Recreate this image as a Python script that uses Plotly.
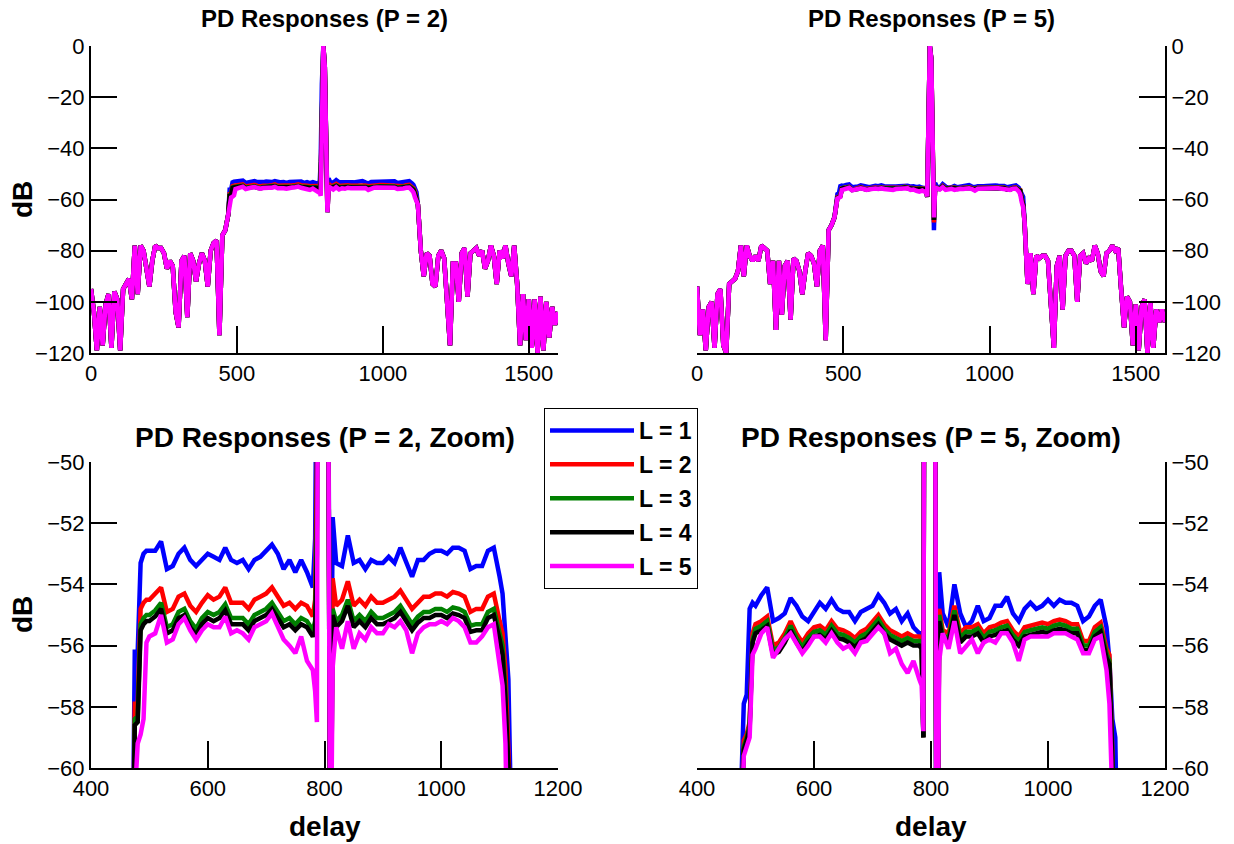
import plotly.graph_objects as go

# ---------------- data ----------------
# out-of-band sidelobes (shared by all L, they overlap in the picture)
delay_lo = [0, 10, 20, 30, 40, 50, 60, 70, 80, 90, 100, 110, 120, 130, 140, 150, 160, 170, 180, 190,
            200, 210, 220, 230, 240, 250, 260, 270, 280, 290, 300, 310, 320, 330, 340, 350, 360, 370, 380, 390,
            400, 410, 420, 430, 440, 450, 460, 470]
delay_hi = [1120, 1130, 1140, 1150, 1160, 1170, 1180, 1190, 1200, 1210, 1220, 1230, 1240, 1250, 1260, 1270,
            1280, 1290, 1300, 1310, 1320, 1330, 1340, 1350, 1360, 1370, 1380, 1390, 1400, 1410, 1420, 1430,
            1440, 1450, 1460, 1470, 1480, 1490, 1500, 1510, 1520, 1530, 1540, 1550, 1560, 1570, 1580, 1590, 1600]

lo_P2 = [-95, -104, -119, -102, -117, -101, -97, -118, -96, -99, -119, -95, -93, -91, -99, -78, -97, -78, -80, -86,
         -94, -84, -78, -79, -79, -81, -87, -84, -86, -104, -110, -84, -82, -106, -81, -84, -92, -85, -81, -84,
         -94, -80, -77, -76, -113, -74, -72, -66]
hi_P2 = [-62, -80, -90, -81, -82, -93, -94, -82, -80, -83, -100, -117, -85, -85, -100, -81,
         -79, -98, -81, -80, -79, -82, -80, -87, -84, -78, -82, -93, -80, -83, -78, -85,
         -90, -78, -93, -117, -97, -115, -99, -118, -99, -120, -98, -119, -100, -114, -102, -109, -104]

lo_P5 = [-94, -113, -103, -119, -102, -100, -118, -97, -95, -117, -120, -93, -92, -91, -88, -78, -90, -78, -82, -84,
         -82, -84, -78, -79, -80, -93, -84, -111, -84, -105, -86, -84, -107, -83, -84, -88, -97, -88, -81, -82,
         -85, -94, -80, -78, -115, -72, -70, -67]
hi_P5 = [-69, -93, -81, -97, -82, -83, -82, -82, -84, -104, -118, -86, -82, -103, -82, -80,
         -80, -82, -100, -82, -81, -85, -83, -84, -78, -81, -88, -90, -81, -80, -78, -80,
         -79, -95, -110, -98, -100, -117, -101, -119, -102, -99, -120, -100, -118, -103, -108, -103, -108]

# pass-band (per L)
delay_band = [475, 480, 485, 490, 495,
              500, 510, 520, 530, 540, 550, 560, 570, 580, 590, 600, 610, 620, 630, 640,
              650, 660, 670, 680, 690, 700, 710, 720, 730, 740, 750, 760, 770, 780,
              784, 787, 791, 796, 801, 806, 810, 814,
              820, 830, 840, 850, 860, 870, 880, 890, 900, 910, 920, 930, 940, 950, 960,
              970, 980, 990, 1000, 1010, 1020, 1030, 1040, 1050, 1060, 1070, 1080, 1090, 1100,
              1105, 1110, 1115]

band_P2_L1 = [-56.2, -56.2, -53.3, -53.0, -52.9,
              -52.9, -52.9, -52.6, -53.5, -53.4, -53.0, -52.8, -53.2, -53.4, -53.2, -53.0, -53.1, -53.2, -52.8, -53.2,
              -53.3, -53.2, -53.5, -53.2, -53.1, -52.9, -52.7, -53.0, -53.5, -53.2, -53.6, -53.2, -53.6, -54.1,
              -52.5, -45, -15, 0, -8, -45, -62, -51.8,
              -53.3, -53.4, -52.4, -53.3, -53.2, -53.5, -53.2, -53.3, -53.3, -53.1, -53.3, -52.8, -53.3, -53.75, -53.2,
              -53.2, -53.0, -52.9, -52.9, -53.0, -52.8, -52.8, -52.9, -53.5, -53.4, -53.4, -52.9, -52.8, -53.75,
              -54.3, -55.7, -57.1]
band_P2_L2 = [-57.9, -57.9, -54.8, -54.6, -54.5,
              -54.5, -54.3, -54.1, -54.9, -54.8, -54.4, -54.3, -54.7, -54.9, -54.6, -54.35, -54.5, -54.4, -54.1, -54.6,
              -54.6, -54.6, -54.8, -54.5, -54.4, -54.3, -54.1, -54.4, -54.7, -54.6, -54.8, -54.6, -54.7, -55.05,
              -54.5, -50, -20, 0, -8, -45, -64, -53.8,
              -54.7, -54.5, -53.9, -54.7, -54.5, -54.7, -54.4, -54.6, -54.6, -54.5, -54.4, -54.2, -54.5, -54.8, -54.6,
              -54.4, -54.4, -54.3, -54.3, -54.4, -54.25, -54.3, -54.4, -54.9, -54.8, -54.8, -54.4, -54.3, -55.2,
              -55.6, -56.8, -59.1]
band_P2_L3 = [-58.4, -58.3, -55.3, -55.1, -55.0,
              -55.0, -54.85, -54.6, -55.4, -55.3, -54.9, -54.8, -55.2, -55.45, -55.1, -54.9, -55.0, -54.9, -54.65, -55.1,
              -55.1, -55.1, -55.3, -55.0, -54.9, -54.8, -54.6, -54.9, -55.2, -55.1, -55.3, -55.1, -55.2, -55.5,
              -55.2, -52, -22, 0, -8, -45, -65, -54.8,
              -55.2, -55.0, -54.5, -55.2, -55.0, -55.2, -54.9, -55.1, -55.1, -55.0, -54.9, -54.7, -55.0, -55.3, -55.05,
              -54.9, -54.9, -54.8, -54.8, -54.9, -54.75, -54.8, -54.9, -55.35, -55.3, -55.3, -54.9, -54.8, -55.6,
              -56.0, -57.5, -59.4]
band_P2_L4 = [-58.6, -58.5, -55.5, -55.3, -55.2,
              -55.2, -55.05, -54.8, -55.6, -55.5, -55.1, -55.0, -55.4, -55.65, -55.3, -55.1, -55.2, -55.1, -54.85, -55.3,
              -55.3, -55.3, -55.5, -55.2, -55.1, -55.0, -54.8, -55.1, -55.4, -55.3, -55.5, -55.3, -55.4, -55.7,
              -55.5, -53, -23, 0, -8, -45, -65, -55.0,
              -55.4, -55.2, -54.7, -55.4, -55.2, -55.4, -55.1, -55.3, -55.3, -55.2, -55.1, -54.9, -55.2, -55.5, -55.25,
              -55.1, -55.1, -55.0, -55.0, -55.1, -54.95, -55.0, -55.1, -55.55, -55.5, -55.5, -55.1, -55.0, -55.8,
              -56.3, -57.8, -59.6]
band_P2_L5 = [-61.0, -59.2, -58.9, -58.4, -55.9,
              -55.7, -55.6, -55.0, -55.9, -55.8, -55.3, -55.1, -55.5, -55.8, -55.5, -55.3, -55.4, -55.4, -55.05, -55.6,
              -55.5, -55.6, -55.8, -55.4, -55.3, -55.2, -54.95, -55.4, -55.8, -56.0, -56.25, -55.7, -56.5, -56.8,
              -57.5, -58.5, -25, 0, -8, -45, -65, -56.7,
              -55.4, -56.1, -55.2, -56.1, -55.6, -55.8, -55.4, -55.6, -55.6, -55.3, -55.4, -55.2, -55.5, -56.25, -55.6,
              -55.4, -55.3, -55.3, -55.2, -55.3, -55.1, -55.2, -55.4, -55.9, -55.9, -55.7, -55.4, -55.3, -56.5,
              -57.3, -59.2, -61.0]

band_P5_L1 = [-61.0, -57.9, -57.6, -54.8, -54.6,
              -54.7, -54.35, -54.1, -55.2, -55.1, -54.95, -54.45, -54.7, -55.05, -55.2, -54.9, -54.6, -54.8, -54.5, -54.8,
              -54.9, -54.9, -55.2, -54.9, -54.8, -54.7, -54.35, -54.6, -54.95, -54.8, -55.2, -54.95, -55.4, -55.6,
              -55.6, -59, -20, 0, -5, -40, -72, -53.6,
              -54.95, -55.4, -54.0, -54.95, -55.4, -55.2, -54.7, -55.2, -55.1, -54.7, -54.7, -54.4, -54.95, -55.2, -54.8,
              -54.6, -54.8, -54.7, -54.5, -54.7, -54.5, -54.6, -54.6, -54.7, -55.2, -55.05, -54.7, -54.5, -55.4,
              -56.5, -58.4, -59.0]
band_P5_L2 = [-62.0, -59.1, -58.9, -58.5, -55.6,
              -55.3, -55.2, -55.05, -56.0, -55.9, -55.6, -55.2, -55.6, -55.9, -55.6, -55.4, -55.35, -55.5, -55.2, -55.45,
              -55.5, -55.6, -55.75, -55.55, -55.45, -55.25, -55.0, -55.3, -55.5, -55.6, -55.7, -55.6, -55.7, -55.7,
              -55.8, -59, -20, 0, -5, -40, -69, -54.8,
              -55.5, -55.6, -54.7, -55.6, -55.4, -55.4, -55.3, -55.6, -55.4, -55.35, -55.25, -55.2, -55.5, -55.7, -55.4,
              -55.35, -55.3, -55.25, -55.3, -55.2, -55.15, -55.2, -55.3, -55.3, -55.85, -55.85, -55.4, -55.25, -56.1,
              -56.3, -59.5, -62.0]
band_P5_L3 = [-62.0, -59.3, -59.0, -58.6, -55.8,
              -55.45, -55.35, -55.2, -56.15, -56.05, -55.75, -55.35, -55.75, -56.05, -55.75, -55.55, -55.5, -55.65, -55.35, -55.6,
              -55.65, -55.75, -55.9, -55.7, -55.6, -55.4, -55.15, -55.45, -55.65, -55.75, -55.85, -55.75, -55.85, -55.85,
              -56.0, -59, -20, 0, -5, -40, -68, -55.0,
              -55.65, -55.75, -54.85, -55.75, -55.55, -55.55, -55.45, -55.75, -55.55, -55.5, -55.4, -55.35, -55.65, -55.85, -55.55,
              -55.5, -55.45, -55.4, -55.45, -55.35, -55.3, -55.35, -55.45, -55.45, -56.0, -56.0, -55.55, -55.4, -56.25,
              -56.5, -59.7, -62.0]
band_P5_L4 = [-62.0, -59.4, -59.1, -58.7, -55.9,
              -55.6, -55.5, -55.35, -56.3, -56.2, -55.9, -55.5, -55.9, -56.2, -55.9, -55.7, -55.65, -55.8, -55.5, -55.75,
              -55.8, -55.9, -56.05, -55.85, -55.75, -55.55, -55.3, -55.6, -55.8, -55.9, -56.0, -55.9, -56.0, -56.0,
              -56.1, -59, -20, 0, -5, -40, -68, -55.2,
              -55.8, -55.9, -55.0, -55.9, -55.7, -55.7, -55.6, -55.9, -55.7, -55.65, -55.55, -55.5, -55.8, -56.0, -55.7,
              -55.65, -55.6, -55.55, -55.6, -55.5, -55.45, -55.5, -55.6, -55.6, -56.15, -56.15, -55.7, -55.55, -56.4,
              -56.6, -59.8, -62.0]
band_P5_L5 = [-63.0, -59.6, -59.3, -59.0, -56.3,
              -56.1, -55.6, -55.4, -56.4, -56.1, -55.8, -55.6, -55.9, -56.25, -56.0, -55.7, -55.7, -55.9, -55.6, -55.9,
              -56.1, -56.0, -56.25, -55.9, -55.85, -55.6, -55.4, -55.6, -56.25, -56.1, -56.6, -56.9, -56.5, -57.1,
              -57.3, -58.8, -20, 0, -5, -40, -67, -56.5,
              -55.6, -56.1, -55.2, -56.25, -56.0, -55.8, -56.25, -55.9, -55.8, -55.9, -55.6, -55.6, -55.9, -56.5, -55.8,
              -55.7, -55.7, -55.7, -55.7, -55.6, -55.6, -55.6, -55.7, -55.8, -56.25, -56.25, -55.8, -55.7, -56.8,
              -57.9, -61.0, -63.0]

L_labels = ["L = 1", "L = 2", "L = 3", "L = 4", "L = 5"]
L_colors = ["#0000FF", "#FF0000", "#008000", "#000000", "#FF00FF"]
bands = {
    2: [band_P2_L1, band_P2_L2, band_P2_L3, band_P2_L4, band_P2_L5],
    5: [band_P5_L1, band_P5_L2, band_P5_L3, band_P5_L4, band_P5_L5],
}
sides = {2: (lo_P2, hi_P2), 5: (lo_P5, hi_P5)}

titles = ["PD Responses (P = 2)", "PD Responses (P = 5)",
          "PD Responses (P = 2, Zoom)", "PD Responses (P = 5, Zoom)"]

# ---------------- figure ----------------
FONT = "Liberation Sans, Arial, Helvetica, sans-serif"
W, H = 1234, 844

fig = go.Figure()

full_x = delay_lo + delay_band + delay_hi
panels = [("x", "y", 2), ("x2", "y2", 5), ("x3", "y3", 2), ("x4", "y4", 5)]
for pi, (xa, ya, P) in enumerate(panels):
    lo, hi = sides[P]
    for li in range(5):
        yv = lo + bands[P][li] + hi
        fig.add_trace(go.Scatter(
            x=full_x, y=yv, mode="lines", xaxis=xa, yaxis=ya,
            line=dict(color=L_colors[li], width=4.5),
            name=L_labels[li], legendgroup=L_labels[li],
            showlegend=(pi == 0), hoverinfo="skip"))

xd_left = [91 / W, 558 / W]
xd_right = [697 / W, 1165 / W]
yd_top = [1 - 353 / H, 1 - 46 / H]
yd_bot = [1 - 768 / H, 1 - 462 / H]

common = dict(showline=True, linecolor="black", linewidth=2, ticks="inside",
              tickwidth=2, tickcolor="black", showgrid=False, zeroline=False,
              automargin=False,
              tickfont=dict(family=FONT, size=22, color="black"), mirror=False)

fig.update_layout(
    width=W, height=H, margin=dict(l=0, r=0, t=0, b=0, autoexpand=False),
    paper_bgcolor="white", plot_bgcolor="white",
    xaxis=dict(domain=xd_left, anchor="y", range=[0, 1600], tickvals=[0, 500, 1000, 1500], ticklen=27, **common),
    yaxis=dict(domain=yd_top, anchor="x", range=[-120, 0], dtick=20, ticklen=26, **common),
    xaxis2=dict(domain=xd_right, anchor="y2", range=[0, 1600], tickvals=[0, 500, 1000, 1500], ticklen=27, **common),
    yaxis2=dict(domain=yd_top, anchor="x2", range=[-120, 0], dtick=20, side="right", ticklen=26, **common),
    xaxis3=dict(domain=xd_left, anchor="y3", range=[400, 1200], dtick=200, ticklen=27, **common),
    yaxis3=dict(domain=yd_bot, anchor="x3", range=[-60, -50], dtick=2, ticklen=26, **common),
    xaxis4=dict(domain=xd_right, anchor="y4", range=[400, 1200], dtick=200, ticklen=27, **common),
    yaxis4=dict(domain=yd_bot, anchor="x4", range=[-60, -50], dtick=2, side="right", ticklen=26, **common),
    legend=dict(x=544 / W, y=1 - 408 / H, xanchor="left", yanchor="top",
                bgcolor="white", bordercolor="black", borderwidth=1,
                font=dict(family=FONT, size=23, color="black", weight="bold"),
                itemwidth=84, traceorder="grouped", tracegroupgap=1),
    showlegend=True,
)

ann = []
title_specs = [((xd_left[0] + xd_left[1]) / 2, 1 - 18 / H, 24),
               ((xd_right[0] + xd_right[1]) / 2, 1 - 18 / H, 24),
               ((xd_left[0] + xd_left[1]) / 2, 1 - 437 / H, 28),
               ((xd_right[0] + xd_right[1]) / 2, 1 - 437 / H, 28)]
for t, (tx, ty, fs) in zip(titles, title_specs):
    ann.append(dict(text="<b>" + t + "</b>", x=tx, y=ty, xref="paper", yref="paper",
                    xanchor="center", yanchor="middle", showarrow=False,
                    font=dict(family=FONT, size=fs, color="black")))
for ty in [1 - 200 / H, 1 - 615 / H]:
    ann.append(dict(text="<b>dB</b>", x=22 / W, y=ty, xref="paper", yref="paper",
                    xanchor="center", yanchor="middle", showarrow=False, textangle=-90,
                    font=dict(family=FONT, size=28, color="black")))
for tx in [(xd_left[0] + xd_left[1]) / 2, (xd_right[0] + xd_right[1]) / 2]:
    ann.append(dict(text="<b>delay</b>", x=tx, y=1 - 826 / H, xref="paper", yref="paper",
                    xanchor="center", yanchor="middle", showarrow=False,
                    font=dict(family=FONT, size=28, color="black")))
fig.update_layout(annotations=ann)

fig.write_html("out.html")
